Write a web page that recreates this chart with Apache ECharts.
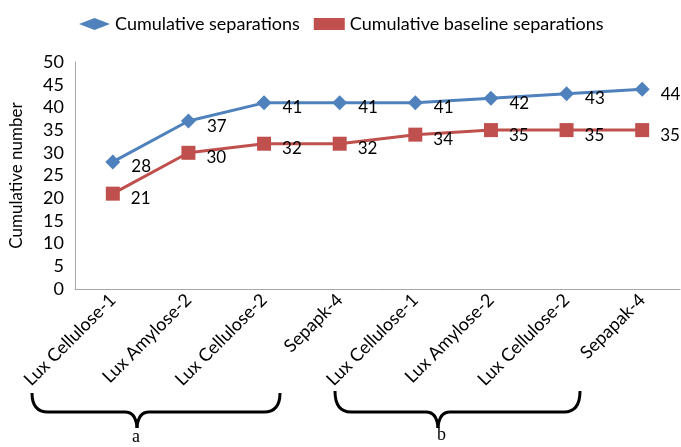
<!DOCTYPE html>
<html><head><meta charset="utf-8">
<script src="https://cdn.jsdelivr.net/npm/echarts@6/dist/echarts.min.js"></script>
<style>html,body{margin:0;padding:0;background:#fff}#c{width:681px;height:447px}</style>
</head><body><div id="c"></div>
<script>
const categories = ['Lux Cellulose-1','Lux Amylose-2','Lux Cellulose-2','Sepapk-4','Lux Cellulose-1','Lux Amylose-2','Lux Cellulose-2','Sepapak-4'];
const cumulativeSeparations = [28,37,41,41,41,42,43,44];
const cumulativeBaseline = [21,30,32,32,34,35,35,35];
const yTicks = {min:0, max:50, interval:5};
const groupLabels = ['a','b'];

const FONT = 'Lato';
const chart = echarts.init(document.getElementById('c'));
const bs = {fill:null, stroke:'#000', lineWidth:3};
function brace(x1, x2, xm, yTop, yMid, yTip){
  return [
    {type:'bezierCurve', shape:{x1:x1, y1:yTop, x2:x1+16, y2:yMid, cpx1:x1, cpy1:yMid}, style:bs},
    {type:'line', shape:{x1:x1+16, y1:yMid, x2:xm-12, y2:yMid}, style:bs},
    {type:'bezierCurve', shape:{x1:xm-12, y1:yMid, x2:xm, y2:yTip, cpx1:xm-1, cpy1:yMid}, style:bs},
    {type:'bezierCurve', shape:{x1:xm, y1:yTip, x2:xm+12, y2:yMid, cpx1:xm+1, cpy1:yMid}, style:bs},
    {type:'line', shape:{x1:xm+12, y1:yMid, x2:x2-16, y2:yMid}, style:bs},
    {type:'bezierCurve', shape:{x1:x2-16, y1:yMid, x2:x2, y2:yTop, cpx1:x2, cpy1:yMid}, style:bs}
  ];
}
chart.setOption({
  animation:false,
  textStyle:{fontFamily:FONT},
  legend:{
    top:10, left:74, itemWidth:31, itemHeight:12, itemGap:14,
    textStyle:{fontFamily:FONT, fontSize:18, color:'#000'},
    data:[{name:'Cumulative separations', icon:'diamond'},{name:'Cumulative baseline separations', icon:'rect'}]
  },
  grid:{left:74, right:1, top:62, bottom:158, containLabel:false},
  xAxis:{
    type:'category', data:categories, boundaryGap:true,
    axisLine:{lineStyle:{color:'#a6a6a6', width:1}},
    axisTick:{show:false},
    axisLabel:{rotate:45, interval:0, fontFamily:FONT, fontSize:18, color:'#000', margin:8}
  },
  yAxis:{
    type:'value', min:yTicks.min, max:yTicks.max, interval:yTicks.interval,
    name:'Cumulative number', nameLocation:'middle', nameGap:50, nameRotate:90,
    nameTextStyle:{fontFamily:FONT, fontSize:17, color:'#000'},
    axisLine:{show:true, lineStyle:{color:'#a6a6a6', width:1}},
    axisTick:{show:false},
    splitLine:{show:false},
    axisLabel:{fontFamily:FONT, fontSize:18, color:'#000', margin:11}
  },
  series:[
    {name:'Cumulative separations', type:'line', data:cumulativeSeparations,
     symbol:'diamond', symbolSize:15, lineStyle:{color:'#4F81BD', width:3},
     itemStyle:{color:'#4F81BD'},
     label:{show:true, position:'right', distance:11, offset:[0,5], fontFamily:FONT, fontSize:17, color:'#000'}},
    {name:'Cumulative baseline separations', type:'line', data:cumulativeBaseline,
     symbol:'rect', symbolSize:14, lineStyle:{color:'#C0504D', width:3},
     itemStyle:{color:'#C0504D'},
     label:{show:true, position:'right', distance:11, offset:[0,5], fontFamily:FONT, fontSize:17, color:'#000'}}
  ],
  graphic: brace(32,280,137,393,412,428).concat(brace(335,580,438,391,412,428)).concat([
    {type:'text', left:132, top:428, style:{text:groupLabels[0], fontFamily:'Liberation Serif', fontSize:18, fill:'#000'}},
    {type:'text', left:437, top:426, style:{text:groupLabels[1], fontFamily:'Liberation Serif', fontSize:18, fill:'#000'}}
  ])
});
</script></body></html>
